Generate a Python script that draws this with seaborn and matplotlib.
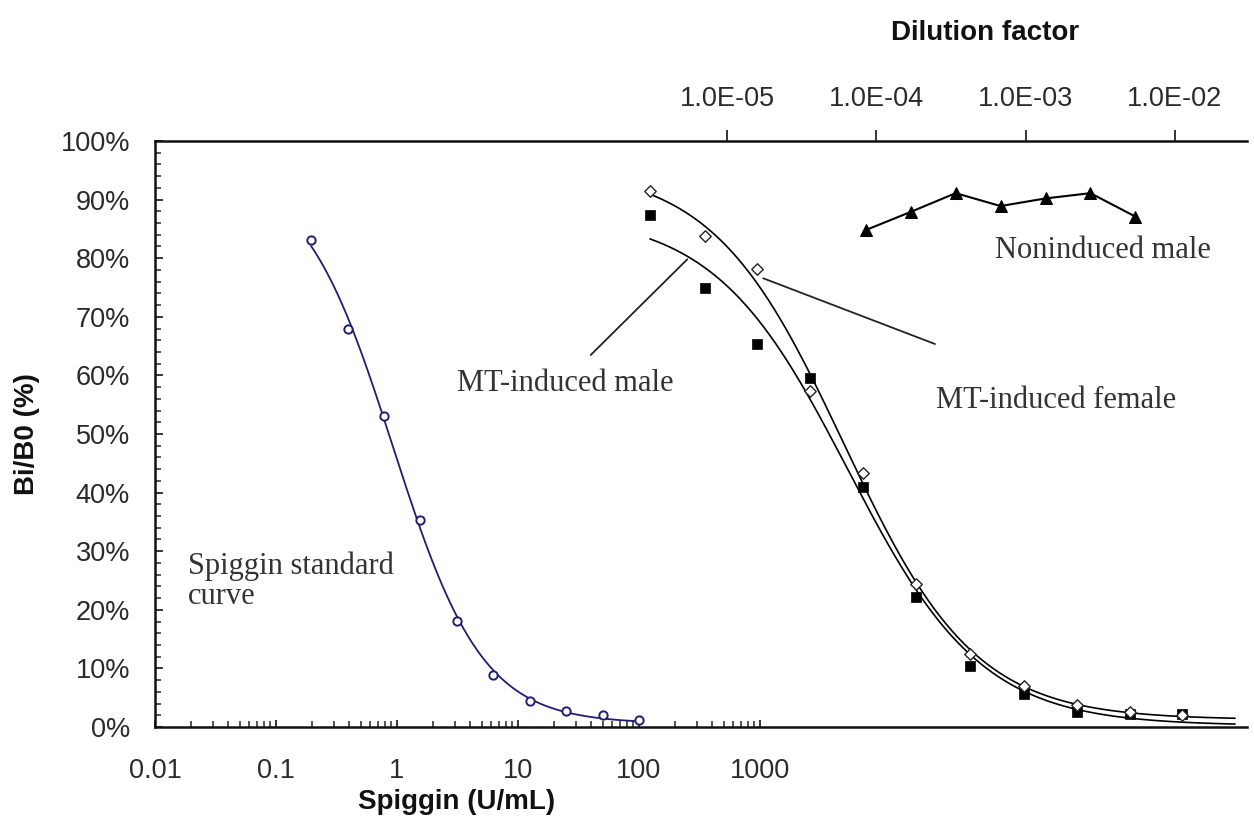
import numpy as np
import matplotlib
matplotlib.use("Agg")
import matplotlib.pyplot as plt
import seaborn as sns
from matplotlib.ticker import FixedLocator, FixedFormatter, NullLocator, MultipleLocator, FuncFormatter

# ---------------- data ----------------
std_conc = [0.195, 0.39, 0.78, 1.56, 3.125, 6.25, 12.5, 25, 50, 100]
std_pct = [83.1, 68.0, 53.1, 35.3, 18.1, 8.8, 4.5, 2.7, 2.0, 1.2]

mt_dil = [3.05e-6, 7.1e-6, 1.6e-5, 3.6e-5, 8.2e-5, 1.85e-4, 4.25e-4, 9.8e-4, 2.2e-3, 5.0e-3, 1.12e-2]
female_pct = [91.5, 83.8, 78.2, 57.4, 43.4, 24.4, 12.5, 7.0, 3.7, 2.6, 2.0]
male_pct = [87.4, 75.0, 65.3, 59.5, 41.0, 22.1, 10.4, 5.6, 2.5, 2.2, 2.3]

nonind_dil = [8.5e-5, 1.7e-4, 3.4e-4, 6.8e-4, 1.36e-3, 2.72e-3, 5.44e-3]
nonind_pct = [84.8, 87.9, 91.1, 88.9, 90.2, 91.1, 87.1]

bottom_ticks = [0.01, 0.1, 1, 10, 100, 1000]
bottom_labels = ["0.01", "0.1", "1", "10", "100", "1000"]
top_ticks = [1e-5, 1e-4, 1e-3, 1e-2]
top_labels = ["1.0E-05", "1.0E-04", "1.0E-03", "1.0E-02"]


def fit4pl(x, y):
    lx = np.log10(np.asarray(x, float))
    y = np.asarray(y, float)

    def f(p, l):
        b, t, c, h = p
        return b + (t - b) / (1 + 10 ** ((l - c) * h))

    p = np.array([y.min(), y.max() + 5, np.median(lx), 1.0])
    lam = 1e-2

    def sse(q):
        return np.sum((y - f(q, lx)) ** 2)

    cur = sse(p)
    for _ in range(600):
        r = y - f(p, lx)
        J = np.empty((len(lx), 4))
        for k in range(4):
            d = np.zeros(4)
            d[k] = 1e-6 * max(1.0, abs(p[k]))
            J[:, k] = (f(p + d, lx) - f(p, lx)) / d[k]
        A = J.T @ J
        g = J.T @ r
        try:
            step = np.linalg.solve(A + lam * np.diag(np.diag(A) + 1e-9), g)
        except np.linalg.LinAlgError:
            lam *= 10
            continue
        pn = p + step
        new = sse(pn)
        if np.isfinite(new) and new < cur:
            p, cur, lam = pn, new, lam / 3
        else:
            lam *= 3
    return lambda xx: f(p, np.log10(xx))


sns.set_style("white")
plt.rcParams["font.family"] = ["Liberation Sans", "DejaVu Sans"]

fig = plt.figure(figsize=(12.54, 8.30), dpi=100)
ax = fig.add_axes([155 / 1254, 1 - 727 / 830, 1092 / 1254, 586 / 830])
ax.set_xscale("log")
ax.set_xlim(0.01, 10 ** 7.025)
ax.set_ylim(0, 100)
ax2 = ax.twiny()
ax2.set_xscale("log")
ax2.set_xlim(10 ** -8.831, 10 ** -1.517)

navy = "#1f1f6e"
# standard curve
fstd = fit4pl(std_conc, std_pct)
xs = np.logspace(np.log10(std_conc[0]), np.log10(std_conc[-1]), 300)
sns.lineplot(x=xs, y=fstd(xs), ax=ax, color=navy, linewidth=1.3, sort=False, estimator=None)
sns.scatterplot(x=std_conc, y=std_pct, ax=ax, marker="o", s=36, fc="white", ec=navy, linewidth=1.4, zorder=5)

# MT-induced curves
xm = np.logspace(np.log10(mt_dil[0]), -1.597, 300)
ffem = fit4pl(mt_dil, female_pct)
fmal = fit4pl(mt_dil, male_pct)
sns.lineplot(x=xm, y=ffem(xm), ax=ax2, color="black", linewidth=1.2, sort=False, estimator=None)
sns.lineplot(x=xm, y=fmal(xm), ax=ax2, color="black", linewidth=1.2, sort=False, estimator=None)
sns.scatterplot(x=mt_dil, y=male_pct, ax=ax2, marker="s", s=55, color="black", ec="black", linewidth=0.5, zorder=5)
sns.scatterplot(x=mt_dil, y=female_pct, ax=ax2, marker="D", s=34, fc="white", ec="#222222", linewidth=1.0, zorder=6)

# Noninduced male
sns.lineplot(x=nonind_dil, y=nonind_pct, ax=ax2, color="black", linewidth=1.5, marker="^",
             markersize=8, markeredgecolor="black", sort=False, estimator=None)

# ---------------- axes styling ----------------
for a in (ax, ax2):
    a.set_xlabel("")
    a.set_ylabel("")
    for s in a.spines.values():
        s.set_linewidth(1.8)
        s.set_color("#111111")
ax.spines["top"].set_visible(False)
ax.spines["right"].set_visible(False)
ax2.spines["bottom"].set_visible(False)
ax2.spines["left"].set_visible(False)
ax2.spines["right"].set_visible(False)

tick_col = "#2a2a2a"
ax.xaxis.set_major_locator(FixedLocator(bottom_ticks))
ax.xaxis.set_major_formatter(FixedFormatter(bottom_labels))
minors = [k * 10.0 ** n for n in range(-2, 3) for k in range(2, 10)]
ax.xaxis.set_minor_locator(FixedLocator(minors))
ax.xaxis.set_minor_formatter(FuncFormatter(lambda v, p: ""))
ax.tick_params(axis="x", which="major", direction="in", length=5, width=1.3, pad=22,
               labelsize=19.5, labelcolor=tick_col, bottom=True)
ax.tick_params(axis="x", which="minor", direction="in", length=4, width=1.1, bottom=True)

ax.yaxis.set_major_locator(MultipleLocator(10))
ax.yaxis.set_minor_locator(MultipleLocator(2))
ax.yaxis.set_major_formatter(FuncFormatter(lambda v, p: f"{v:.0f}%"))
ax.tick_params(axis="y", which="major", direction="in", length=6, width=1.3, pad=18,
               labelsize=19.5, labelcolor=tick_col, left=True)
ax.tick_params(axis="y", which="minor", direction="in", length=4.5, width=1.1, left=True)

ax2.xaxis.set_major_locator(FixedLocator(top_ticks))
ax2.xaxis.set_major_formatter(FixedFormatter(top_labels))
ax2.xaxis.set_minor_locator(NullLocator())
ax2.tick_params(axis="x", which="major", direction="out", length=8, width=1.3, pad=13,
                labelsize=19.5, labelcolor=tick_col, top=True)

ax.set_xlabel("Spiggin (U/mL)", fontsize=20, fontweight="bold", color="#111111")
ax.xaxis.set_label_coords((457 - 155) / 1092, (727 - 802) / 586)
ax.xaxis.label.set_va("center")
ax.set_ylabel("Bi/B0 (%)", fontsize=20, fontweight="bold", color="#111111")
ax.yaxis.set_label_coords((27 - 155) / 1092, 0.5)
ax.yaxis.label.set_va("center")
fig.text(985 / 1254, 1 - 33 / 830, "Dilution factor", ha="center", va="center",
         fontsize=20, fontweight="bold", color="#111111")

# ---------------- annotations ----------------
def fx(px):
    return (px - 155) / 1092


def fy(py):
    return (727 - py) / 586


serif = dict(family=["Liberation Serif", "DejaVu Serif"], fontsize=22, color="#333333")
ax.text(fx(188), fy(581), "Spiggin standard\ncurve", transform=ax.transAxes, ha="left",
        va="center", linespacing=1.05, **serif)
ax.text(fx(457), fy(383), "MT-induced male", transform=ax.transAxes, ha="left", va="center", **serif)
ax.text(fx(936), fy(400), "MT-induced female", transform=ax.transAxes, ha="left", va="center", **serif)
ax.text(fx(995), fy(250), "Noninduced male", transform=ax.transAxes, ha="left", va="center", **serif)
ax.plot([fx(590.7), fx(687.3)], [fy(355), fy(259.3)], transform=ax.transAxes, color="#222222", lw=1.3)
ax.plot([fx(763.3), fx(935)], [fy(278.3), fy(344)], transform=ax.transAxes, color="#222222", lw=1.3)

fig.savefig("out.png", dpi=100)
